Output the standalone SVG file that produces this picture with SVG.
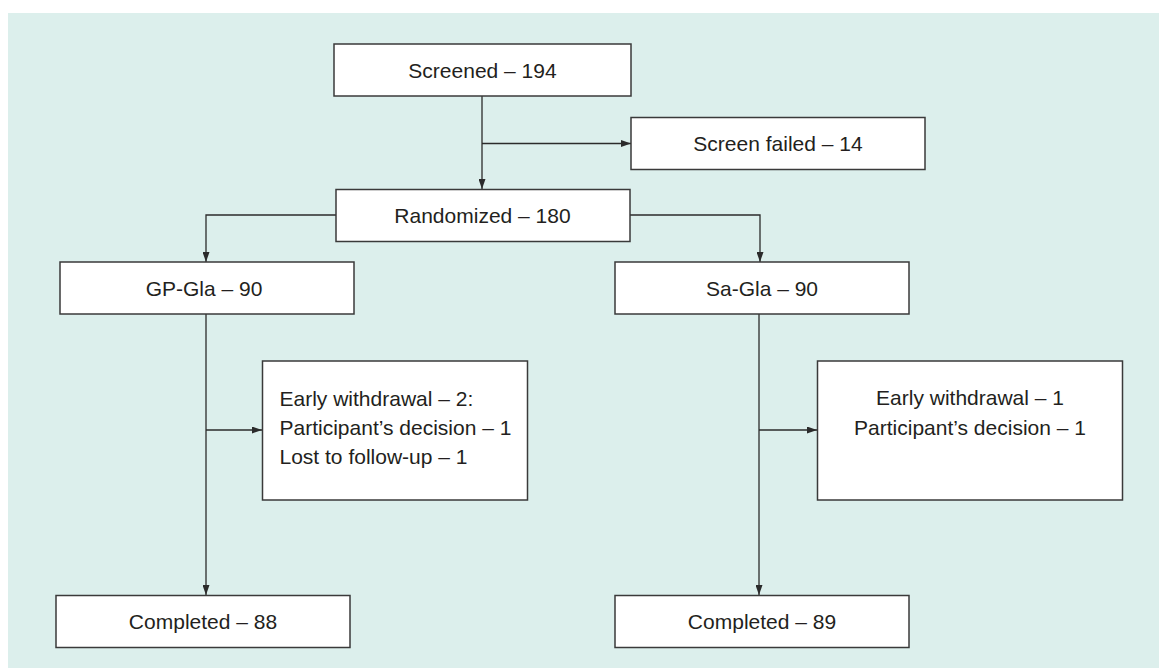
<svg xmlns="http://www.w3.org/2000/svg" width="1159" height="668" viewBox="0 0 1159 668">
  <style>
    .box { fill: #ffffff; stroke: #3a3a3a; stroke-width: 1.5; }
    .lbl { font-family: "Liberation Sans", Arial, sans-serif; font-size: 21px; fill: #231f20; }
    .mid { text-anchor: middle; }
    .conn { fill: none; stroke: #2b2b2b; stroke-width: 1.3; }
  </style>
  <defs>
    <marker id="arrow" markerUnits="userSpaceOnUse" markerWidth="10" markerHeight="7" refX="10" refY="3.5" orient="auto">
      <path d="M0,0 L10,3.5 L0,7 z" fill="#2b2b2b"/>
    </marker>
  </defs>
  <rect x="0" y="0" width="1159" height="668" fill="#ffffff"/>
  <rect x="8" y="13" width="1151" height="655" fill="#dcefec"/>

  <g id="connectors">
    <line class="conn" x1="482" y1="96" x2="482" y2="189" marker-end="url(#arrow)"/>
    <line class="conn" x1="482" y1="143.5" x2="631" y2="143.5" marker-end="url(#arrow)"/>
    <polyline class="conn" points="336,215 206,215 206,262" marker-end="url(#arrow)"/>
    <polyline class="conn" points="630,215 760,215 760,262" marker-end="url(#arrow)"/>
    <line class="conn" x1="206" y1="314" x2="206" y2="595" marker-end="url(#arrow)"/>
    <line class="conn" x1="206" y1="430" x2="262" y2="430" marker-end="url(#arrow)"/>
    <line class="conn" x1="759" y1="314" x2="759" y2="595" marker-end="url(#arrow)"/>
    <line class="conn" x1="759" y1="430" x2="817" y2="430" marker-end="url(#arrow)"/>
  </g>

  <g id="screened">
    <rect class="box" x="334" y="44" width="297" height="52"/>
    <text class="lbl mid" x="482.5" y="77.5">Screened – 194</text>
  </g>
  <g id="screen-failed">
    <rect class="box" x="631" y="117.5" width="294" height="52"/>
    <text class="lbl mid" x="778" y="150.5">Screen failed – 14</text>
  </g>
  <g id="randomized">
    <rect class="box" x="336" y="189.5" width="294" height="52"/>
    <text class="lbl mid" x="482.5" y="223">Randomized – 180</text>
  </g>
  <g id="gp-gla">
    <rect class="box" x="60" y="262" width="294" height="52"/>
    <text class="lbl mid" x="204" y="295.5">GP-Gla – 90</text>
  </g>
  <g id="sa-gla">
    <rect class="box" x="615" y="262" width="294" height="52"/>
    <text class="lbl mid" x="762" y="295.5">Sa-Gla – 90</text>
  </g>
  <g id="withdrawal-gp">
    <rect class="box" x="262.5" y="361" width="265" height="139"/>
    <text class="lbl" x="279.5" y="405.5">Early withdrawal – 2:</text>
    <text class="lbl" x="279.5" y="434.5">Participant’s decision – 1</text>
    <text class="lbl" x="279.5" y="463.5">Lost to follow-up – 1</text>
  </g>
  <g id="withdrawal-sa">
    <rect class="box" x="817.5" y="361" width="305" height="139"/>
    <text class="lbl mid" x="970" y="404.5">Early withdrawal – 1</text>
    <text class="lbl mid" x="970" y="435">Participant’s decision – 1</text>
  </g>
  <g id="completed-gp">
    <rect class="box" x="56" y="595.5" width="294" height="52"/>
    <text class="lbl mid" x="203" y="628.5">Completed – 88</text>
  </g>
  <g id="completed-sa">
    <rect class="box" x="615" y="595.5" width="294" height="52"/>
    <text class="lbl mid" x="762" y="628.5">Completed – 89</text>
  </g>
</svg>
